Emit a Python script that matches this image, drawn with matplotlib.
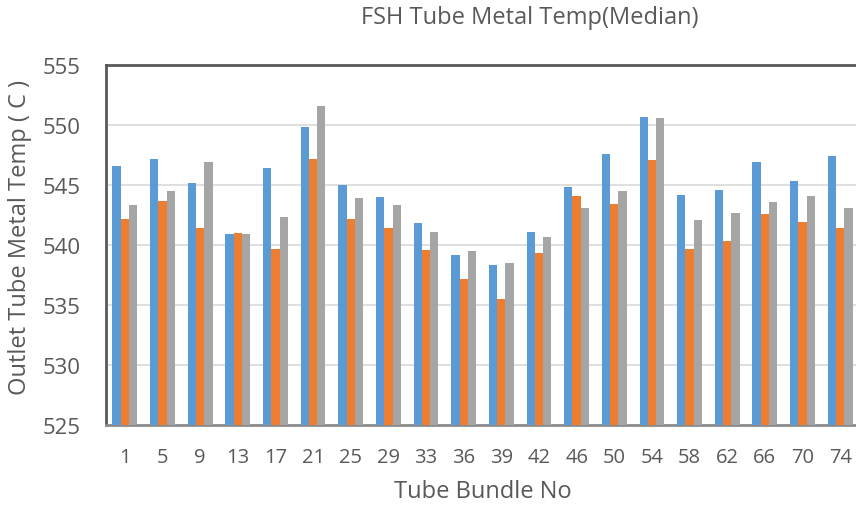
import numpy as np
import matplotlib.pyplot as plt

# FSH outlet tube metal temperature, median per tube bundle
bundles = ['1', '5', '9', '13', '17', '21', '25', '29', '33', '36',
           '39', '42', '46', '50', '54', '58', '62', '66', '70', '74']
series_a = [546.6, 547.2, 545.2, 540.9, 546.4, 549.8, 545.0, 544.0, 541.8, 539.2,
            538.3, 541.1, 544.8, 547.6, 550.7, 544.2, 544.6, 546.9, 545.3, 547.4]
series_b = [542.2, 543.7, 541.4, 541.0, 539.7, 547.2, 542.2, 541.4, 539.6, 537.2,
            535.5, 539.3, 544.1, 543.4, 547.1, 539.7, 540.3, 542.6, 541.9, 541.4]
series_c = [543.3, 544.5, 546.9, 540.9, 542.3, 551.6, 543.9, 543.3, 541.1, 539.5,
            538.5, 540.7, 543.1, 544.5, 550.6, 542.1, 542.7, 543.6, 544.1, 543.1]

plt.rcParams['font.family'] = ['Open Sans', 'DejaVu Sans']
txt = '#595959'

fig = plt.figure(figsize=(8.56, 5.06), dpi=100)
ax = fig.add_axes([106 / 856, 80 / 506, 753 / 856, 360 / 506])

x_pos = np.arange(len(bundles))
w = 0.22
ax.bar(x_pos - w, np.array(series_a) - 525, w, bottom=525, color='#5B9BD5', zorder=3)
ax.bar(x_pos, np.array(series_b) - 525, w, bottom=525, color='#ED7D31', zorder=3)
ax.bar(x_pos + w, np.array(series_c) - 525, w, bottom=525, color='#A5A5A5', zorder=3)

ax.set_xlim(-0.5, len(bundles) - 0.5)
ax.set_ylim(525, 555)
ax.set_yticks(np.arange(525, 556, 5))
ax.set_xticks(x_pos)
ax.set_xticklabels(bundles)
ax.yaxis.grid(True, color='#D9D9D9', lw=1.2, zorder=0)
ax.tick_params(length=0, labelsize=14.5, labelcolor=txt)
ax.tick_params(axis='x', pad=16)
ax.tick_params(axis='y', pad=18, labelsize=16)

ax.spines['top'].set_color('#595959')
ax.spines['left'].set_color('#595959')
ax.spines['bottom'].set_color('#8C8C8C')
ax.spines['right'].set_visible(False)
for s in ('top', 'left', 'bottom'):
    ax.spines[s].set_linewidth(2)

# axis titles and chart title placed in figure coordinates
fig.text(483 / 856, 1 - 492 / 506, 'Tube Bundle No', ha='center', va='center',
         fontsize=17, color=txt)
fig.text(20 / 856, 1 - 238 / 506, 'Outlet Tube Metal Temp ( C )', ha='center',
         va='center', rotation=90, fontsize=17, color=txt)
fig.text(530 / 856, 1 - 18 / 506, 'FSH Tube Metal Temp(Median)', ha='center',
         va='center', fontsize=17, color=txt)

plt.savefig('out.png', dpi=100)
